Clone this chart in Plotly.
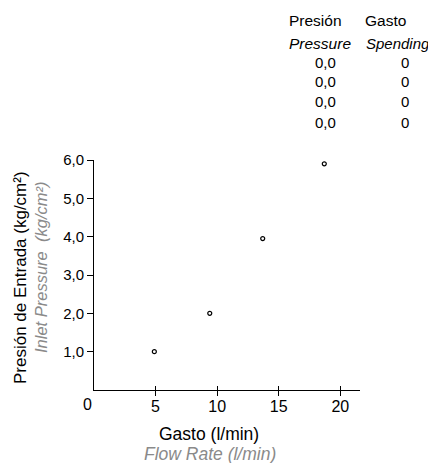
import plotly.graph_objects as go

# Data
flow = [4.9, 9.4, 13.7, 18.7]
pressure = [1.0, 2.0, 3.95, 5.9]
y_ticks = [1, 2, 3, 4, 5, 6]
x_ticks = [5, 10, 15, 20]
table_pressure = [0.0, 0.0, 0.0, 0.0]
table_flow = [0, 0, 0, 0]

FONT = "Liberation Sans, Arial, sans-serif"
GRAY = "#8a8a8a"

W, H = 428, 455          # page body has an 8px margin
L, R, T, B = 86, 76, 152, 73
PW, PH = W - L - R, H - T - B


def to_paper(sx, sy):
    fx, fy = sx - 8, sy - 8
    return (fx - L) / PW, (H - B - fy) / PH


fig = go.Figure()
fig.add_trace(go.Scatter(
    x=flow, y=pressure, mode="markers",
    marker=dict(symbol="circle-open", size=4, color="black", line=dict(width=1.2)),
    showlegend=False, hoverinfo="skip"))
fig.add_trace(go.Scatter(x=[0], y=[0], xaxis="x2", mode="markers",
                         marker=dict(opacity=0), showlegend=False, hoverinfo="skip"))

fig.update_layout(
    width=W, height=H,
    margin=dict(l=L, r=R, t=T, b=B),
    paper_bgcolor="white", plot_bgcolor="white",
    separators=",.",
    font=dict(family=FONT, size=15, color="black"),
    xaxis=dict(range=[0, 21.6], tickvals=x_ticks, ticks="outside", ticklen=5,
               tickcolor="black", tickwidth=1, showline=True, linecolor="black",
               linewidth=1, showgrid=False, zeroline=False, ticklabelstandoff=-3,
               tickfont=dict(size=16, family=FONT)),
    xaxis2=dict(range=[0, 21.6], tickvals=x_ticks, ticks="inside", ticklen=4,
                tickcolor="black", showticklabels=False, overlaying="x",
                side="bottom", showgrid=False, zeroline=False, showline=False),
    yaxis=dict(range=[0, 6.0], tickvals=y_ticks, tickformat=".1f", ticks="outside",
               ticklen=6, tickcolor="black", showline=True, linecolor="black",
               linewidth=1, showgrid=False, zeroline=False,
               tickfont=dict(size=15, family=FONT)),
)


def add_text(sx, sy, text, size, color="black", xanchor="center", angle=0):
    px, py = to_paper(sx, sy)
    fig.add_annotation(x=px, y=py, xref="paper", yref="paper", text=text,
                       showarrow=False, xanchor=xanchor, yanchor="middle",
                       textangle=angle, borderpad=0,
                       font=dict(size=size, family=FONT, color=color))


# origin label
add_text(87, 404, "0", 16)
# axis titles
add_text(209, 434, "Gasto (l/min)", 17.5)
add_text(210, 454, "<i>Flow Rate (l/min)</i>", 17.5, GRAY)
add_text(20, 278, "Presión de Entrada (kg/cm²)", 17, angle=-90)
add_text(41, 268, "<i>Inlet Pressure  (kg/cm²)</i>", 16.5, GRAY, angle=-90)

# table at top right
add_text(288, 20, "Presión", 15.5, xanchor="left")
add_text(364, 20, "Gasto", 15.5, xanchor="left")
add_text(288, 43, "<i>Pressure</i>", 15.5, xanchor="left")
add_text(365, 43, "<i>Spending</i>", 15, xanchor="left")

row_y = [62, 82, 102, 122]
for p, g, sy in zip(table_pressure, table_flow, row_y):
    add_text(325, sy, f"{p:.1f}".replace(".", ","), 15)
    add_text(405, sy, f"{g}", 15)

fig.write_html("out.html")
